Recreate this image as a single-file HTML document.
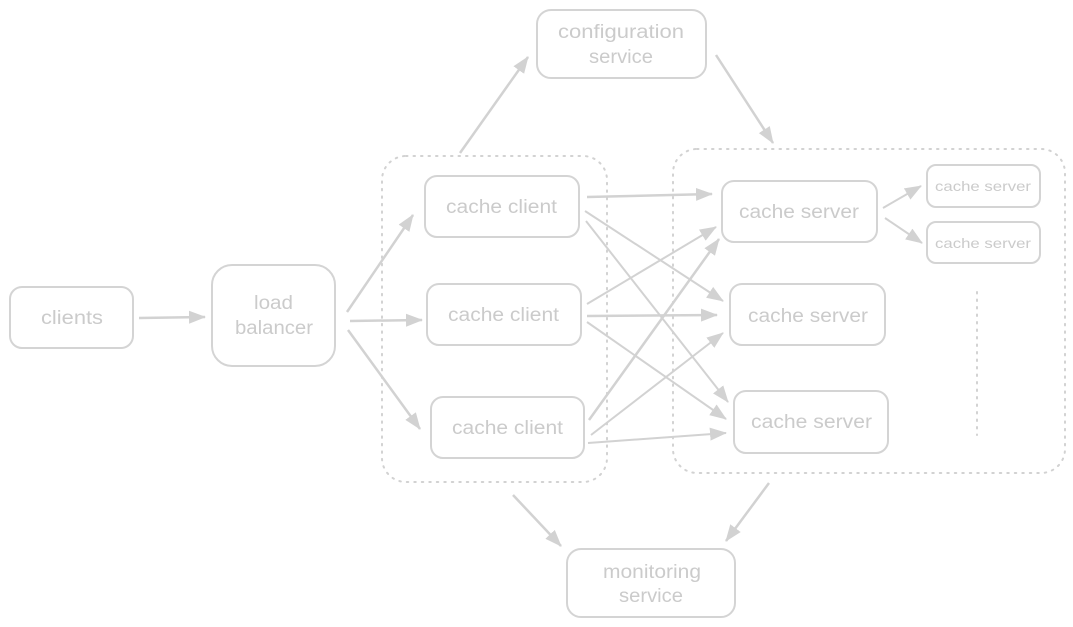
<!DOCTYPE html>
<html><head><meta charset="utf-8"><style>
html,body{margin:0;padding:0;background:#fff;}
svg{display:block;}
text{font-family:"Liberation Sans",sans-serif;fill:#cbcbcb;}
</style></head><body>
<svg width="1073" height="627" viewBox="0 0 1073 627" xmlns="http://www.w3.org/2000/svg">
<defs>
<marker id="a" markerUnits="userSpaceOnUse" markerWidth="18" markerHeight="14" refX="16" refY="7" orient="auto">
<path d="M0,0.5 L17,7 L0,13.5 Z" fill="#d2d2d2"/>
</marker>
</defs>
<rect x="0" y="0" width="1073" height="627" fill="#fff"/>

<!-- dotted containers -->
<rect x="382" y="156" width="225" height="326" rx="24" fill="none" stroke="#d2d2d2" stroke-width="2" stroke-dasharray="1.5 6" stroke-linecap="round"/>
<rect x="673" y="149" width="392" height="324" rx="24" fill="none" stroke="#d2d2d2" stroke-width="2" stroke-dasharray="1.5 6" stroke-linecap="round"/>
<line x1="977" y1="292" x2="977" y2="435" stroke="#d2d2d2" stroke-width="2" stroke-dasharray="1.5 6" stroke-linecap="round"/>

<g fill="none" stroke="#d4d4d4" stroke-width="2">
<rect x="10" y="287" width="123" height="61" rx="12"/>
<rect x="212" y="265" width="123" height="101" rx="20"/>
<rect x="537" y="10" width="169" height="68" rx="14"/>
<rect x="567" y="549" width="168" height="68" rx="14"/>
<rect x="425" y="176" width="154" height="61" rx="12"/>
<rect x="427" y="284" width="154" height="61" rx="12"/>
<rect x="431" y="397" width="153" height="61" rx="12"/>
<rect x="722" y="181" width="155" height="61" rx="12"/>
<rect x="730" y="284" width="155" height="61" rx="12"/>
<rect x="734" y="391" width="154" height="62" rx="12"/>
<rect x="927" y="165" width="113" height="42" rx="9"/>
<rect x="927" y="222" width="113" height="41" rx="9"/>
</g>

<g stroke="#d2d2d2" stroke-width="2" fill="none" marker-end="url(#a)">
<line x1="139" y1="318" x2="205" y2="317" stroke-width="2.5"/>
<line x1="347" y1="312" x2="413" y2="215" stroke-width="2.5"/>
<line x1="350" y1="321" x2="422" y2="320" stroke-width="2.5"/>
<line x1="348" y1="330" x2="420" y2="429" stroke-width="2.5"/>
<line x1="460" y1="153" x2="528" y2="57" stroke-width="2.5"/>
<line x1="716" y1="55" x2="773" y2="143" stroke-width="2.5"/>
<line x1="513" y1="495" x2="561" y2="546" stroke-width="2.5"/>
<line x1="769" y1="483" x2="726" y2="541" stroke-width="2.5"/>

<line x1="587" y1="197" x2="712" y2="194" stroke-width="2.5"/>
<line x1="585" y1="211" x2="723" y2="301"/>
<line x1="586" y1="221" x2="728" y2="402"/>
<line x1="587" y1="304" x2="716" y2="227"/>
<line x1="587" y1="316" x2="717" y2="315" stroke-width="2.5"/>
<line x1="587" y1="322" x2="726" y2="419"/>
<line x1="589" y1="420" x2="719" y2="239" stroke-width="2.5"/>
<line x1="591" y1="435" x2="723" y2="333"/>
<line x1="588" y1="443" x2="726" y2="433"/>
<line x1="883" y1="208" x2="921" y2="186"/>
<line x1="885" y1="218" x2="922" y2="243"/>
</g>

<g font-size="19">
<text x="41" y="324" textLength="62" lengthAdjust="spacingAndGlyphs">clients</text>
<text x="254" y="309" textLength="39" lengthAdjust="spacingAndGlyphs">load</text>
<text x="235" y="334" textLength="78" lengthAdjust="spacingAndGlyphs">balancer</text>
<text x="558" y="38" textLength="126" lengthAdjust="spacingAndGlyphs">configuration</text>
<text x="589" y="63" textLength="64" lengthAdjust="spacingAndGlyphs">service</text>
<text x="603" y="578" textLength="98" lengthAdjust="spacingAndGlyphs">monitoring</text>
<text x="619" y="602" textLength="64" lengthAdjust="spacingAndGlyphs">service</text>
<text x="446" y="213" textLength="111" lengthAdjust="spacingAndGlyphs">cache client</text>
<text x="448" y="321" textLength="111" lengthAdjust="spacingAndGlyphs">cache client</text>
<text x="452" y="434" textLength="111" lengthAdjust="spacingAndGlyphs">cache client</text>
<text x="739" y="218" textLength="120" lengthAdjust="spacingAndGlyphs">cache server</text>
<text x="748" y="322" textLength="120" lengthAdjust="spacingAndGlyphs">cache server</text>
<text x="751" y="428" textLength="121" lengthAdjust="spacingAndGlyphs">cache server</text>
</g>
<g font-size="14">
<text x="935" y="191" textLength="96" lengthAdjust="spacingAndGlyphs">cache server</text>
<text x="935" y="248" textLength="96" lengthAdjust="spacingAndGlyphs">cache server</text>
</g>
</svg>
</body></html>
